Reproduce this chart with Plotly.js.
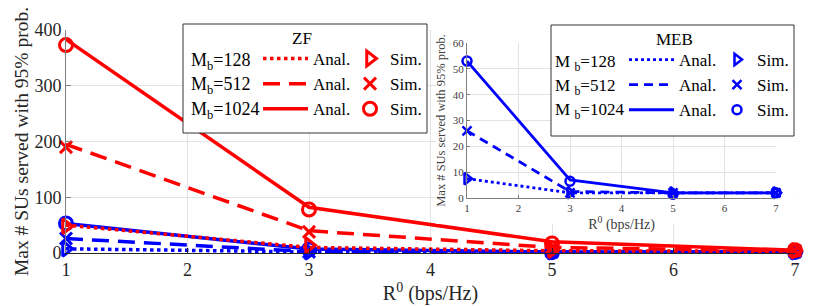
<!DOCTYPE html>
<html>
<head>
<meta charset="utf-8">
<script src="https://cdn.plot.ly/plotly-3.0.1.min.js"></script>
<style>html,body{margin:0;padding:0;background:#fff;}#chart{width:830px;height:306px;}</style>
</head>
<body>
<div id="chart"></div>
<script>
// ---- data ----
const rate = [1, 3, 5, 7];
const xTicks = [1, 2, 3, 4, 5, 6, 7];
const mainYTicks = [0, 100, 200, 300, 400];
const insetYTicks = [0, 10, 20, 30, 40, 50, 60];
const antennaLabels = ['128', '512', '1024'];

const zf128Anal = [50, 10, 4, 3];
const zf128Sim = [48, 14, 5, 4];
const zf512Anal = [195, 40, 10, 4];
const zf512Sim = [190, 38, 10, 4];
const zf1024Anal = [383, 82, 20, 5];
const zf1024Sim = [373, 78, 17, 5];

const meb128Anal = [7.5, 2, 2, 2];
const meb128Sim = [7.5, 2, 2, 2];
const meb512Anal = [26, 2.5, 2, 2];
const meb512Sim = [26, 2, 2, 2];
const meb1024Anal = [53, 7, 2, 2];
const meb1024Sim = [53, 6.5, 1.5, 2];

// ---- geometry helpers (pixel -> paper) ----
const L = 66, R = 795, T = 30, B = 253;
const PX = p => (p - L) / (R - L);
const PY = p => (B - p) / (B - T);

const SERIF = 'Liberation Serif';
const RED = '#ff0000', BLUE = '#0000ff';

const zfAnal = [zf128Anal, zf512Anal, zf1024Anal];
const zfSim = [zf128Sim, zf512Sim, zf1024Sim];
const mebAnal = [meb128Anal, meb512Anal, meb1024Anal];
const mebSim = [meb128Sim, meb512Sim, meb1024Sim];

const mainDash = ['dot', '17px,9px', 'solid'];
const insetDash = ['dot', '9px,6px', 'solid'];
const symbols = ['triangle-right-open', 'x-thin-open', 'circle-open'];
const mainSizes = [13, 12, 13];
const insetSizes = [10, 9, 9];

const traces = [];
traces.push({x: [1], y: [0], xaxis: 'x2', yaxis: 'y2', mode: 'lines', showlegend: false, hoverinfo: 'skip'});

for (let i = 0; i < 3; i++) {
  traces.push({x: rate, y: mebAnal[i], mode: 'lines', line: {color: BLUE, width: 3.5, dash: mainDash[i]},
    showlegend: false, cliponaxis: false});
}
for (let i = 0; i < 3; i++) {
  traces.push({x: rate, y: mebSim[i], mode: 'markers',
    marker: {symbol: symbols[i], size: mainSizes[i], color: BLUE, line: {color: BLUE, width: 3}},
    showlegend: false, cliponaxis: false});
}
for (let i = 0; i < 3; i++) {
  traces.push({x: rate, y: zfAnal[i], mode: 'lines', name: 'Anal.', legend: 'legend',
    line: {color: RED, width: 3.5, dash: mainDash[i]}, cliponaxis: false});
}
for (let i = 0; i < 3; i++) {
  traces.push({x: rate, y: zfSim[i], mode: 'markers', name: 'Sim.', legend: 'legend2',
    marker: {symbol: symbols[i], size: mainSizes[i], color: RED, line: {color: RED, width: 3}}, cliponaxis: false});
}
for (let i = 0; i < 3; i++) {
  traces.push({x: rate, y: mebAnal[i], xaxis: 'x3', yaxis: 'y3', mode: 'lines', name: 'Anal.', legend: 'legend3',
    line: {color: BLUE, width: 2.8, dash: insetDash[i]}, cliponaxis: false});
}
for (let i = 0; i < 3; i++) {
  traces.push({x: rate, y: mebSim[i], xaxis: 'x3', yaxis: 'y3', mode: 'markers', name: 'Sim.', legend: 'legend4',
    marker: {symbol: symbols[i], size: insetSizes[i], color: BLUE, line: {color: BLUE, width: 2.5}}, cliponaxis: false});
}

const legendCommon = {bgcolor: 'rgba(0,0,0,0)', borderwidth: 0, font: {family: SERIF, size: 17, color: '#000'},
  xanchor: 'left', yanchor: 'top', traceorder: 'normal', tracegroupgap: 0};

const annotations = [];
function label(text, px, py, size, anchor) {
  annotations.push({text: text, xref: 'paper', yref: 'paper', x: PX(px), y: PY(py), xanchor: anchor || 'left',
    yanchor: 'middle', showarrow: false, font: {family: SERIF, size: size, color: '#000'}});
}
label('ZF', 302, 38, 17, 'center');
label('MEB', 674, 39, 17, 'center');
const zfRows = [62, 86, 110];
const mebRows = [63, 87, 111];
for (let i = 0; i < 3; i++) {
  label('M<sub>b</sub>=' + antennaLabels[i], 189, zfRows[i], 18);
  label('M <sub>b</sub>=' + antennaLabels[i], 553, mebRows[i], 17);
}

const axisFont = {family: SERIF, size: 18, color: '#262626'};
const layout = {
  width: 830, height: 306,
  margin: {l: L, r: 830 - R, t: T, b: 306 - B},
  paper_bgcolor: '#fff', plot_bgcolor: '#fff',
  font: {family: SERIF},
  xaxis: {domain: [0, 1], range: [1, 7], tickvals: xTicks, ticktext: xTicks.map(String), tickfont: axisFont,
    showgrid: true, gridcolor: '#e3e3e3', zeroline: false, showline: true, linecolor: '#262626', linewidth: 1,
    ticks: 'inside', ticklen: 5, tickcolor: '#262626',
    title: {text: 'R<sup>0</sup> (bps/Hz)', font: {family: SERIF, size: 20, color: '#262626'}, standoff: 4}},
  yaxis: {domain: [0, 1], range: [0, 400], tickvals: mainYTicks, ticktext: mainYTicks.map(String), tickfont: axisFont,
    showgrid: true, gridcolor: '#e3e3e3', zeroline: false, showline: true, linecolor: '#808080', linewidth: 1,
    ticks: 'inside', ticklen: 5, tickcolor: '#808080',
    title: {text: 'Max # SUs served with 95% prob.', font: {family: SERIF, size: 19.5, color: '#262626'}, standoff: 0}},
  xaxis2: {domain: [PX(436), PX(794)], range: [0, 1], showgrid: false, zeroline: false, showline: false,
    showticklabels: false, ticks: '', anchor: 'y2', fixedrange: true},
  yaxis2: {domain: [PY(224), PY(32)], range: [0, 1], showgrid: false, zeroline: false, showline: false,
    showticklabels: false, ticks: '', anchor: 'x2', fixedrange: true},
  xaxis3: {domain: [PX(467), PX(776)], range: [1, 7], tickvals: xTicks, ticktext: xTicks.map(String), anchor: 'y3',
    tickfont: {family: SERIF, size: 11, color: '#404040'}, showgrid: true, gridcolor: '#e3e3e3', zeroline: false,
    showline: true, linecolor: '#808080', ticks: 'inside', ticklen: 3, tickcolor: '#808080',
    title: {text: 'R<sup>0</sup> (bps/Hz)', font: {family: SERIF, size: 14, color: '#404040'}, standoff: 2}},
  yaxis3: {domain: [PY(198), PY(43)], range: [0, 60], tickvals: insetYTicks, ticktext: insetYTicks.map(String), anchor: 'x3',
    tickfont: {family: SERIF, size: 11, color: '#404040'}, showgrid: true, gridcolor: '#e3e3e3', zeroline: false,
    showline: true, linecolor: '#808080', ticks: 'inside', ticklen: 3, tickcolor: '#808080',
    title: {text: 'Max # SUs served with 95% prob.', font: {family: SERIF, size: 12.5, color: '#404040'}, standoff: 4}},
  shapes: [
    {type: 'rect', xref: 'paper', yref: 'paper', x0: PX(183), x1: PX(427), y0: PY(133), y1: PY(24),
      fillcolor: '#fff', line: {color: '#333', width: 1}, layer: 'above'},
    {type: 'rect', xref: 'paper', yref: 'paper', x0: PX(551), x1: PX(794), y0: PY(136), y1: PY(25),
      fillcolor: '#fff', line: {color: '#333', width: 1}, layer: 'above'}
  ],
  legend: Object.assign({}, legendCommon, {x: PX(258), y: PY(41), itemwidth: 45}),
  legend2: Object.assign({}, legendCommon, {x: PX(350), y: PY(41), itemwidth: 30}),
  legend3: Object.assign({}, legendCommon, {x: PX(624), y: PY(42), itemwidth: 45}),
  legend4: Object.assign({}, legendCommon, {x: PX(717), y: PY(42), itemwidth: 30}),
  annotations: annotations,
  showlegend: true
};

Plotly.newPlot('chart', traces, layout, {displayModeBar: false, staticPlot: true});
</script>
</body>
</html>
